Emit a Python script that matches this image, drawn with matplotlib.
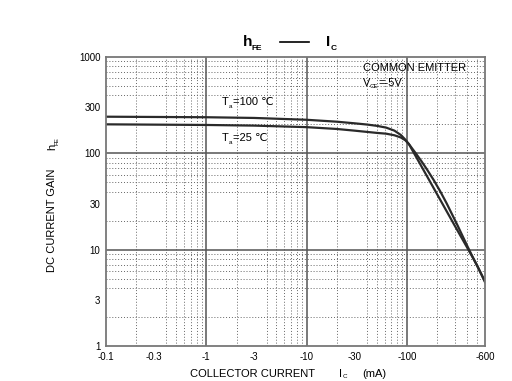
# hFE - IC 特性グラフ

import numpy as np
import matplotlib.pyplot as plt

plt.rcParams['font.family'] = ['Liberation Sans', 'DejaVu Sans']

# コレクタ電流 [mA] と直流電流増幅率 (Ta=100℃)
ic_100 = [0.1, 1, 3, 10, 20, 30, 40, 50, 62, 75, 87, 95, 105, 116, 130, 147, 165, 195, 227, 300, 405, 500, 600]
hfe_100 = [240, 237, 233, 223, 213, 205, 199, 193, 185, 172, 155, 141, 124, 103, 83.5, 66.5, 53.7, 39.4, 29.7, 17.7, 10.2, 6.9, 4.6]

# コレクタ電流 [mA] と直流電流増幅率 (Ta=25℃)
ic_25 = [0.1, 1, 3, 10, 20, 30, 50, 62, 75, 87, 97, 105, 122, 140, 159, 185, 215, 249, 320, 405, 500, 600]
hfe_25 = [200, 197, 194, 187, 179, 172, 163, 160, 154, 146, 136, 124, 100.6, 82.4, 67.6, 52.7, 40.2, 30.2, 17.8, 10.6, 6.8, 4.7]

# 目盛り
x_ticks = [0.1, 0.3, 1, 3, 10, 30, 100, 600]
x_labels = ["-0.1", "-0.3", "-1", "-3", "-10", "-30", "-100", "-600"]
y_ticks = [1, 3, 10, 30, 100, 300, 1000]
y_labels = ["1", "3", "10", "30", "100", "300", "1000"]

W, H = 512, 381


def fx(px):
    return px / W


def fy(py):
    return 1 - py / H


def main():
    fig = plt.figure(figsize=(5.12, 3.81), dpi=100)
    ax = fig.add_axes([fx(106), fy(346), fx(485) - fx(106), fy(57) - fy(346)])

    ax.set_xscale("log")
    ax.set_yscale("log")
    ax.set_xlim(0.1, 600)
    ax.set_ylim(1, 1000)

    # グリッド (補助線は点線, 主線は実線)
    ax.grid(which="minor", linestyle=(0, (1, 2)), color="#666666", linewidth=0.7)
    for v in [1, 10, 100]:
        ax.axvline(v, color="#555555", linewidth=1.1)
    for v in [10, 100]:
        ax.axhline(v, color="#555555", linewidth=1.1)

    # 特性曲線
    ax.plot(ic_100, hfe_100, color="#2a2a2a", linewidth=1.6)
    ax.plot(ic_25, hfe_25, color="#2a2a2a", linewidth=1.6)

    ax.set_xticks(x_ticks)
    ax.set_xticklabels(x_labels)
    ax.set_yticks(y_ticks)
    ax.set_yticklabels(y_labels)
    ax.tick_params(which="both", length=0, labelsize=7, pad=4)
    for s in ax.spines.values():
        s.set_color("#777777")
        s.set_linewidth(1.3)

    # タイトル
    fig.text(fx(243), fy(42), "h", fontsize=11, fontweight="bold", ha="left", va="center")
    fig.text(fx(252), fy(48), "FE", fontsize=6, fontweight="bold", ha="left", va="center")
    fig.lines.append(plt.Line2D([fx(280), fx(309)], [fy(42), fy(42)], transform=fig.transFigure,
                                color="black", linewidth=1.2))
    fig.text(fx(326), fy(42), "I", fontsize=11, fontweight="bold", ha="left", va="center")
    fig.text(fx(331), fy(48), "C", fontsize=6, fontweight="bold", ha="left", va="center")

    # 軸ラベル
    fig.text(fx(190), fy(374), "COLLECTOR CURRENT", fontsize=8, ha="left", va="center")
    fig.text(fx(339), fy(374), "I", fontsize=8, ha="left", va="center")
    fig.text(fx(343), fy(377), "C", fontsize=4.5, ha="left", va="center")
    fig.text(fx(362), fy(374), "(mA)", fontsize=8, ha="left", va="center")
    fig.text(fx(52), fy(220), "DC CURRENT GAIN", fontsize=8, rotation=90, ha="center", va="center")
    fig.text(fx(52), fy(147), "h", fontsize=8, rotation=90, ha="center", va="center")
    fig.text(fx(57), fy(141), "FE", fontsize=4.5, rotation=90, ha="center", va="center")

    # 注記
    fig.text(fx(363), fy(68), "COMMON EMITTER", fontsize=8, ha="left", va="center")
    fig.text(fx(363), fy(83), "V", fontsize=8, ha="left", va="center")
    fig.text(fx(370), fy(86), "CE", fontsize=4.5, ha="left", va="center")
    fig.text(fx(378), fy(83), "=-5V", fontsize=8, ha="left", va="center")
    fig.text(fx(222), fy(102), "T", fontsize=8, ha="left", va="center")
    fig.text(fx(229), fy(106), "a", fontsize=4.5, ha="left", va="center")
    fig.text(fx(233), fy(102), "=100 ℃", fontsize=8, ha="left", va="center")
    fig.text(fx(222), fy(138), "T", fontsize=8, ha="left", va="center")
    fig.text(fx(229), fy(142), "a", fontsize=4.5, ha="left", va="center")
    fig.text(fx(233), fy(138), "=25 ℃", fontsize=8, ha="left", va="center")

    plt.savefig("out.png", dpi=100)


if __name__ == "__main__":
    main()
